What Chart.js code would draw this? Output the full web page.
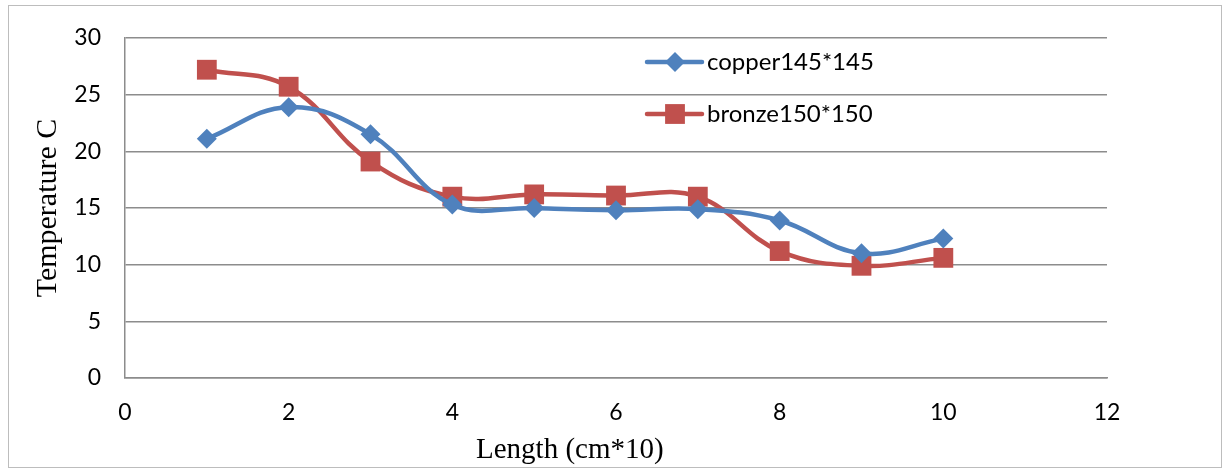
<!DOCTYPE html>
<html>
<head>
<meta charset="utf-8">
<script src="https://cdn.jsdelivr.net/npm/chart.js@4/dist/chart.umd.min.js"></script>
<style>
  html, body { margin: 0; padding: 0; background: #fff; }
  #wrap { position: relative; width: 1222px; height: 469px; }
  #frame { position: absolute; left: 8px; top: 5px; width: 1212px; height: 461px;
           border: 1px solid #bdbdbd; pointer-events: none; }
</style>
</head>
<body>
<div id="wrap">
  <canvas id="grafico" width="1222" height="469"></canvas>
  <div id="frame"></div>
</div>
<script>
const comprimentos = [1, 2, 3, 4, 5, 6, 7, 8, 9, 10];
const cobre = [21.1, 23.9, 21.5, 15.3, 15.0, 14.8, 14.9, 13.9, 11.0, 12.3];
const bronze = [27.2, 25.7, 19.1, 16.0, 16.2, 16.1, 16.0, 11.2, 9.9, 10.6];
const nomes = ['copper145*145', 'bronze150*150'];
const ticksX = [0, 2, 4, 6, 8, 10, 12];
const ticksY = [0, 5, 10, 15, 20, 25, 30];

const azul = '#4f81bd';
const vermelho = '#c0504d';
const cinza = '#8c8c8c';

function pontos(valores) {
  return comprimentos.map((x, i) => ({ x: x, y: valores[i] }));
}

// legenda desenhada dentro da area do grafico
const legendaInterna = {
  id: 'legendaInterna',
  afterDatasetsDraw(chart) {
    const ctx = chart.ctx;
    const area = chart.chartArea;
    chart.data.datasets.forEach((ds, i) => {
      const x0 = area.left + 522;
      const y = area.top + 24 + i * 52;
      ctx.save();
      ctx.strokeStyle = ds.borderColor;
      ctx.lineWidth = ds.borderWidth;
      ctx.lineCap = 'round';
      ctx.beginPath();
      ctx.moveTo(x0, y);
      ctx.lineTo(x0 + 55, y);
      ctx.stroke();
      ctx.fillStyle = ds.backgroundColor;
      const cx = x0 + 28;
      if (ds.pointStyle === 'rect') {
        const s = ds.pointRadius * Math.SQRT1_2;
        ctx.fillRect(cx - s, y - s, 2 * s, 2 * s);
      } else {
        const r = ds.pointRadius;
        ctx.beginPath();
        ctx.moveTo(cx, y - r);
        ctx.lineTo(cx + r, y);
        ctx.lineTo(cx, y + r);
        ctx.lineTo(cx - r, y);
        ctx.closePath();
        ctx.fill();
      }
      ctx.fillStyle = '#000';
      ctx.font = '24px Lato';
      ctx.textBaseline = 'middle';
      ctx.textAlign = 'left';
      ctx.fillText(ds.label, x0 + 60, y);
      ctx.restore();
    });
  }
};

// titulo do eixo x, um pouco a esquerda do centro
const tituloX = {
  id: 'tituloX',
  afterDraw(chart) {
    const ctx = chart.ctx;
    const area = chart.chartArea;
    ctx.save();
    ctx.font = '29px "Liberation Serif"';
    ctx.fillStyle = '#000';
    ctx.textAlign = 'center';
    ctx.textBaseline = 'middle';
    ctx.fillText('Length (cm*10)', area.left + area.width * 0.453, 450);
    ctx.restore();
  }
};

new Chart(document.getElementById('grafico'), {
  type: 'line',
  data: {
    datasets: [
      {
        label: nomes[0],
        data: pontos(cobre),
        borderColor: azul,
        backgroundColor: azul,
        borderWidth: 4.5,
        pointStyle: 'rectRot',
        pointRadius: 10,
        pointBorderWidth: 0,
        tension: 0.4
      },
      {
        label: nomes[1],
        data: pontos(bronze),
        borderColor: vermelho,
        backgroundColor: vermelho,
        borderWidth: 4.5,
        pointStyle: 'rect',
        pointRadius: 14,
        pointBorderWidth: 0,
        tension: 0.4
      }
    ]
  },
  options: {
    responsive: false,
    animation: false,
    events: [],
    layout: { padding: { left: 18, top: 38, right: 115, bottom: 0 } },
    plugins: { legend: { display: false }, tooltip: { enabled: false } },
    scales: {
      x: {
        type: 'linear',
        min: 0,
        max: 12,
        afterBuildTicks: (axis) => { axis.ticks = ticksX.map(v => ({ value: v })); },
        grid: { display: false, drawTicks: false },
        border: { display: true, color: cinza, width: 1.5 },
        ticks: { color: '#000', font: { family: 'Lato', size: 23 }, padding: 21, maxRotation: 0 },
        afterFit: (axis) => { axis.height = 91; }
      },
      y: {
        min: 0,
        max: 30,
        afterBuildTicks: (axis) => { axis.ticks = ticksY.map(v => ({ value: v })); },
        grid: { color: cinza, lineWidth: 1.5, drawTicks: false },
        border: { display: true, color: cinza, width: 1.5 },
        ticks: { color: '#000', font: { family: 'Lato', size: 23 }, padding: 24 },
        title: {
          display: true,
          text: 'Temperature C',
          color: '#000',
          font: { family: 'Liberation Serif', size: 30 },
          padding: { top: 12, bottom: 0 }
        },
        afterFit: (axis) => { axis.width = 107; }
      }
    }
  },
  plugins: [legendaInterna, tituloX]
});
</script>
</body>
</html>
